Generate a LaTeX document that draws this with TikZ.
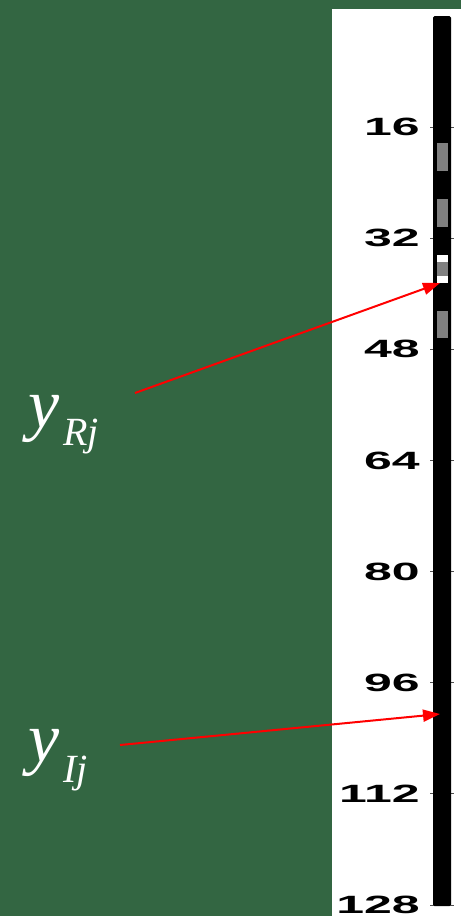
\documentclass[tikz,border=0pt]{standalone}
\usepackage{fontspec}
\setmainfont{Liberation Serif}
\newfontfamily\tickfont[FakeStretch=2.0]{Liberation Sans Bold}
\usetikzlibrary{arrows.meta,positioning}
\definecolor{board}{HTML}{336642}
\definecolor{band}{HTML}{808080}
\definecolor{pointer}{HTML}{FF0000}
\definecolor{tickgray}{HTML}{505050}
\tikzset{
  ticklab/.style={font=\tickfont\fontsize{25}{25}\selectfont, anchor=east, inner sep=0pt},
  sym/.style={font=\fontsize{70}{70}\selectfont, text=white, inner sep=0pt, anchor=base west},
  arr/.style={-{Triangle[length=17pt,width=12pt]}, line width=2pt, color=pointer},
  gband/.style={fill=band},
  wband/.style={fill=white},
  tickmark/.style={draw=tickgray, line width=0.8pt},
}
\newcommand{\subsym}[2]{\raisebox{#1}{\fontsize{40}{40}\selectfont\textit{#2}}}

\begin{document}
\begin{tikzpicture}[x=1pt, y=-1pt]
    \useasboundingbox (0,0) rectangle (461,916);
    \fill[board] (0,0) rectangle (461,916);
    \fill[white] (332,9) rectangle (461,916);
    \foreach \v in {16,32,...,128}{
      \draw[tickmark] (430,{16+\v*6.945}) -- (454,{16+\v*6.945});
      \node[ticklab] (t\v) at (420,{16+\v*6.945}) {\v};
    }
    \node[fill=black, rounded corners=1.5pt, inner sep=0pt, minimum width=18pt,
          minimum height=890pt, anchor=north] (bar) at (442,16) {};
    \fill[gband] (437,143) rectangle (448,171);
    \fill[gband] (437,199) rectangle (448,227);
    \fill[wband] (437,255) rectangle (448,262);
    \fill[gband] (437,262) rectangle (448,276);
    \fill[wband] (437,276) rectangle (448,283);
    \fill[gband] (437,311) rectangle (448,338);
    \node[sym] (yR) at (28,427) {\textit{y}\hspace{4pt}\subsym{-18pt}{Rj}};
    \node[sym] (yI) at (28,761) {\textit{y}\hspace{4pt}\subsym{-21pt}{Ij}};
    \coordinate (fromR) at (135,393);
    \coordinate (fromI) at (120,745);
    \coordinate (hitR) at (440,283);
    \coordinate (hitI) at (440,714);
    \draw[arr] (fromR) -- (hitR);
    \draw[arr] (fromI) -- (hitI);
  \end{tikzpicture}
\end{document}
